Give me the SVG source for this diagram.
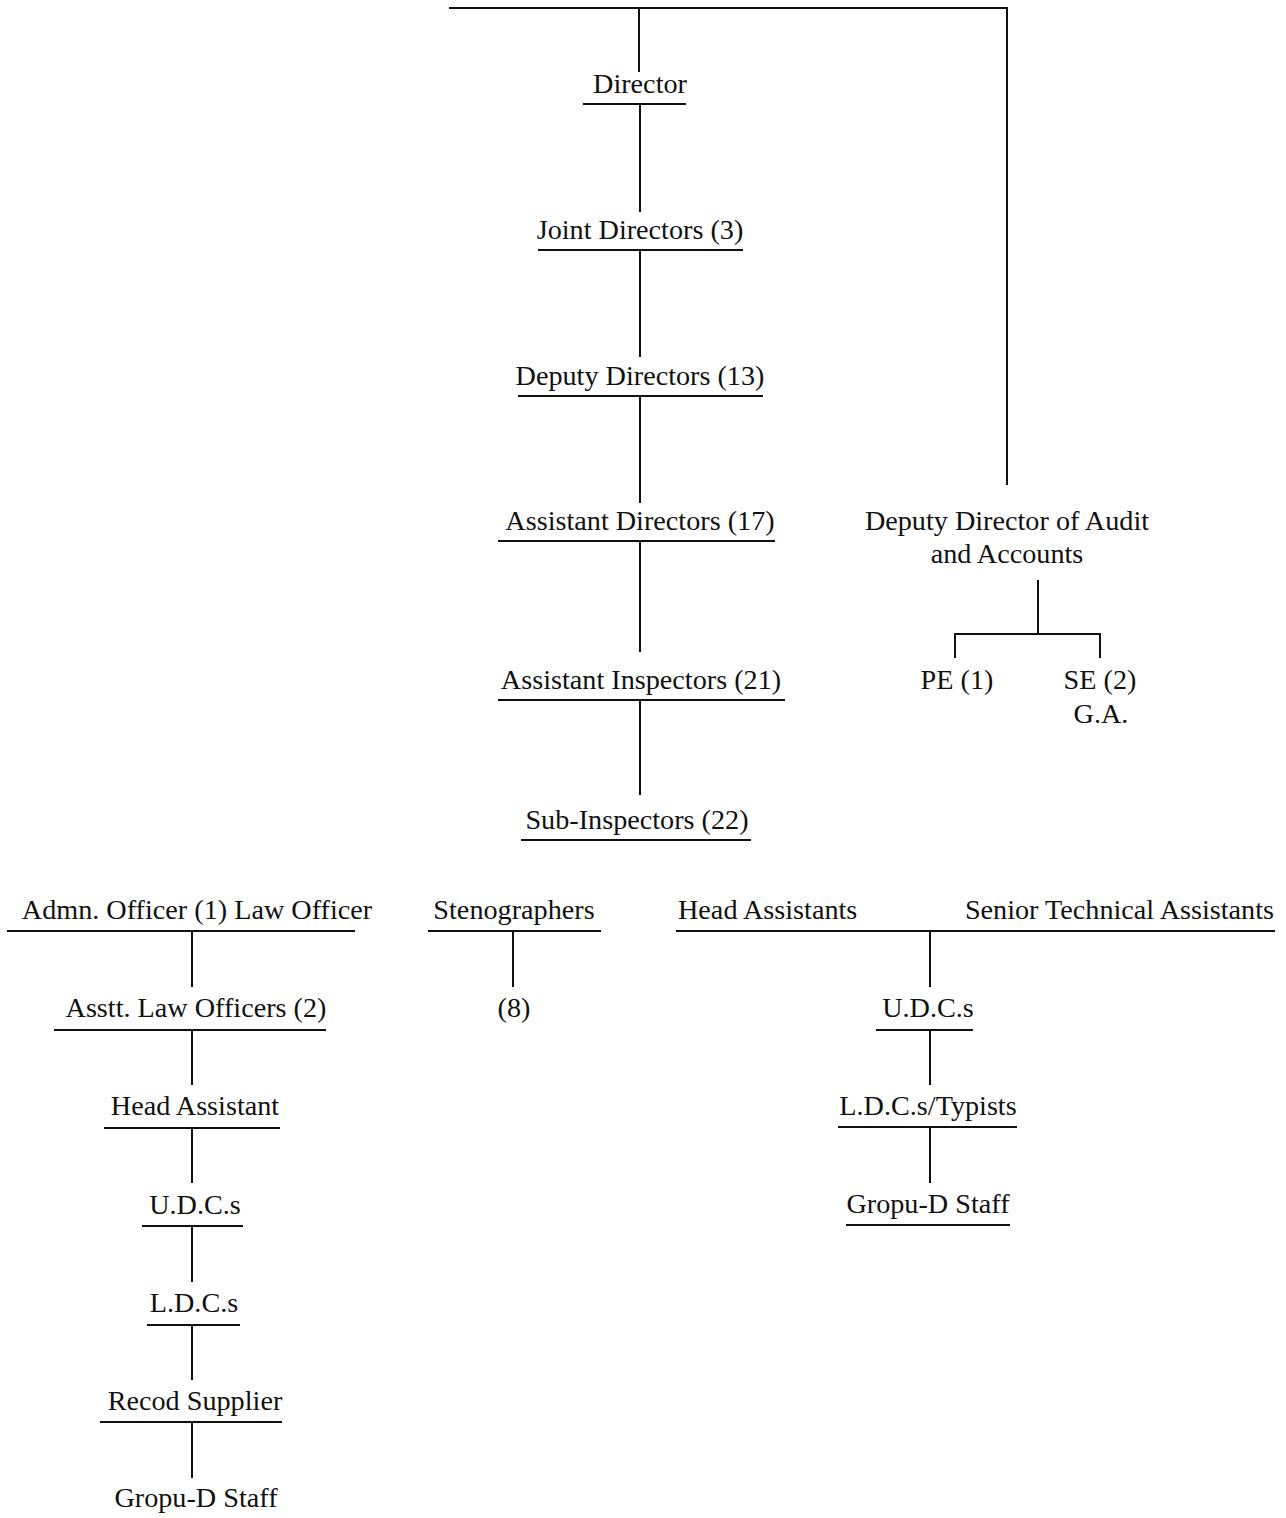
<svg xmlns="http://www.w3.org/2000/svg" width="1286" height="1518" viewBox="0 0 1286 1518">
<style>
text{font-family:"Liberation Serif","Times New Roman",serif;font-size:28.2px;fill:#111;text-anchor:middle}
line,path{stroke:#111;stroke-width:2;fill:none}
</style>
<rect width="1286" height="1518" fill="#fff"/>
<g id="connectors">
<line x1="449" y1="8" x2="1008" y2="8"/>
<line x1="639" y1="8" x2="639" y2="72"/>
<line x1="1007" y1="8" x2="1007" y2="485"/>
<line x1="640" y1="104" x2="640" y2="212"/>
<line x1="640" y1="250" x2="640" y2="357"/>
<line x1="640" y1="396" x2="640" y2="503"/>
<line x1="640" y1="541" x2="640" y2="652"/>
<line x1="640" y1="700" x2="640" y2="795"/>
<path d="M1038 580V634M955 658V634H1100V658"/>
<line x1="192" y1="931" x2="192" y2="987"/>
<line x1="192" y1="1030" x2="192" y2="1085"/>
<line x1="192" y1="1128" x2="192" y2="1183"/>
<line x1="192" y1="1226" x2="192" y2="1282"/>
<line x1="192" y1="1325" x2="192" y2="1380"/>
<line x1="192" y1="1422" x2="192" y2="1478"/>
<line x1="513" y1="931" x2="513" y2="987"/>
<line x1="930" y1="931" x2="930" y2="987"/>
<line x1="930" y1="1030" x2="930" y2="1085"/>
<line x1="930" y1="1127" x2="930" y2="1183"/>
</g>
<g id="director"><text x="640" y="93">Director</text><line x1="583" y1="104" x2="686" y2="104"/></g>
<g id="joint-directors"><text x="640" y="239">Joint Directors (3)</text><line x1="538" y1="250" x2="743" y2="250"/></g>
<g id="deputy-directors"><text x="640" y="385">Deputy Directors (13)</text><line x1="518" y1="396" x2="763" y2="396"/></g>
<g id="assistant-directors"><text x="640" y="530">Assistant Directors (17)</text><line x1="498" y1="541" x2="775" y2="541"/></g>
<g id="assistant-inspectors"><text x="641" y="689">Assistant Inspectors (21)</text><line x1="498" y1="700" x2="785" y2="700"/></g>
<g id="sub-inspectors"><text x="637" y="829">Sub-Inspectors (22)</text><line x1="521" y1="840" x2="751" y2="840"/></g>
<g id="dd-audit"><text x="1007" y="530">Deputy Director of Audit</text><text x="1007" y="563">and Accounts</text></g>
<g id="pe"><text x="957" y="689">PE (1)</text></g>
<g id="se"><text x="1100" y="689">SE (2)</text><text x="1101" y="723">G.A.</text></g>
<g id="admn-officer"><text x="197" y="919">Admn. Officer (1) Law Officer</text><line x1="7" y1="931" x2="355" y2="931"/></g>
<g id="asstt-law"><text x="196" y="1017">Asstt. Law Officers (2)</text><line x1="54" y1="1030" x2="326" y2="1030"/></g>
<g id="head-assistant"><text x="195" y="1115">Head Assistant</text><line x1="104" y1="1128" x2="280" y2="1128"/></g>
<g id="udcs-left"><text x="195" y="1214">U.D.C.s</text><line x1="142" y1="1226" x2="243" y2="1226"/></g>
<g id="ldcs-left"><text x="194" y="1312">L.D.C.s</text><line x1="147" y1="1325" x2="240" y2="1325"/></g>
<g id="recod-supplier"><text x="195" y="1410">Recod Supplier</text><line x1="100" y1="1422" x2="282" y2="1422"/></g>
<g id="groupd-left"><text x="196" y="1507">Gropu-D Staff</text></g>
<g id="stenographers"><text x="514" y="919">Stenographers</text><line x1="428" y1="931" x2="601" y2="931"/></g>
<g id="steno-8"><text x="514" y="1017">(8)</text></g>
<g id="head-assistants"><text x="678" y="919" style="text-anchor:start">Head Assistants</text><text x="1274" y="919" style="text-anchor:end">Senior Technical Assistants</text><line x1="676" y1="931" x2="1275" y2="931"/></g>
<g id="udcs-right"><text x="928" y="1017">U.D.C.s</text><line x1="876" y1="1030" x2="973" y2="1030"/></g>
<g id="ldcs-typists"><text x="928" y="1115">L.D.C.s/Typists</text><line x1="838" y1="1127" x2="1017" y2="1127"/></g>
<g id="groupd-right"><text x="928" y="1213">Gropu-D Staff</text><line x1="846" y1="1225" x2="1010" y2="1225"/></g>
</svg>
